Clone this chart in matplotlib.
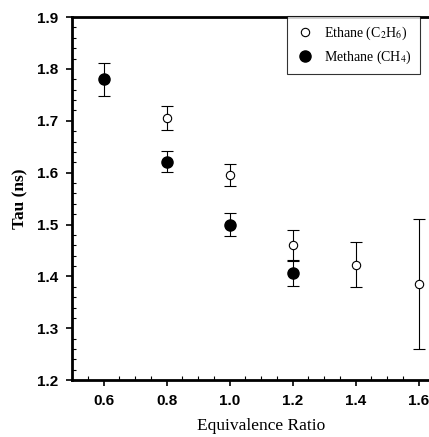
import matplotlib
matplotlib.use("Agg")
import matplotlib.pyplot as plt
from matplotlib.lines import Line2D
from matplotlib.ticker import MultipleLocator

# Datos
ratio_metano = [0.6, 0.8, 1.0, 1.2]
tau_metano = [1.780, 1.621, 1.500, 1.407]
err_metano = [0.032, 0.020, 0.022, 0.025]

ratio_etano = [0.8, 1.0, 1.2, 1.4, 1.6]
tau_etano = [1.705, 1.595, 1.460, 1.423, 1.385]
err_etano = [0.023, 0.021, 0.030, 0.043, 0.125]

plt.rcParams["mathtext.fontset"] = "stix"

fig = plt.figure(figsize=(4.29, 4.37), dpi=100)
# el eje derecho queda recortado como en el escaneo original
ax = fig.add_axes([0.168, 0.130, 0.881, 0.831])

ax.errorbar(ratio_etano, tau_etano, yerr=err_etano, fmt="o", mfc="white",
            mec="black", mew=0.8, ms=6, ecolor="black", elinewidth=0.8,
            capsize=4, capthick=0.8, zorder=3)
ax.errorbar(ratio_metano, tau_metano, yerr=err_metano, fmt="o", mfc="black",
            mec="black", ms=8, ecolor="black", elinewidth=0.8,
            capsize=4, capthick=0.8, zorder=4)

ax.set_xlim(0.5, 1.7)
ax.set_ylim(1.2, 1.9)
ax.xaxis.set_minor_locator(MultipleLocator(0.05))
ax.yaxis.set_major_locator(MultipleLocator(0.1))
ax.yaxis.set_minor_locator(MultipleLocator(0.02))
ax.set_xticks([0.6, 0.8, 1.0, 1.2, 1.4, 1.6])
ax.set_xticklabels(["0.6", "0.8", "1.0", "1.2", "1.4", "1.6"])

for lbl in ax.get_xticklabels() + ax.get_yticklabels():
    lbl.set_fontfamily("Liberation Sans")
    lbl.set_fontweight("bold")
    lbl.set_fontsize(11)

ax.tick_params(which="major", direction="out", length=4, width=1.2,
               top=False, right=False, pad=6)
ax.tick_params(which="minor", direction="in", length=3, width=0.8,
               top=False, right=False)

for s in ["left", "bottom", "top"]:
    ax.spines[s].set_linewidth(2)
ax.spines["right"].set_visible(False)

ax.set_xlabel("Equivalence Ratio", family="Liberation Serif", fontsize=12.5,
              labelpad=7)
ax.set_ylabel("Tau (ns)", family="Liberation Serif", fontsize=12.5,
              fontweight="bold", labelpad=6)

handles = [
    Line2D([], [], ls="none", marker="o", mfc="white", mec="black",
           mew=0.8, ms=6),
    Line2D([], [], ls="none", marker="o", mfc="black", mec="black", ms=8),
]
labels = ["Ethane (C$_2$H$_6$)", "Methane (CH$_4$)"]
leg = ax.legend(handles, labels, loc="upper right",
                bbox_to_anchor=(0.979, 0.963), bbox_transform=fig.transFigure,
                borderaxespad=0, frameon=True, fancybox=False,
                prop={"family": "Liberation Serif", "size": 10},
                handletextpad=0.6, handlelength=1.5, borderpad=0.6,
                labelspacing=0.5)
leg.get_frame().set_edgecolor("black")
leg.get_frame().set_linewidth(0.8)

fig.savefig("out.png", dpi=100)
